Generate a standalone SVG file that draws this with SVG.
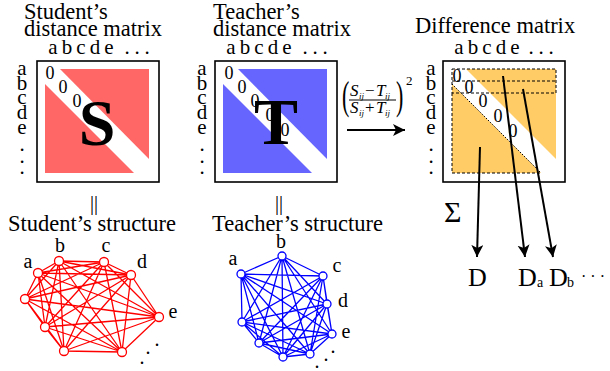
<svg xmlns="http://www.w3.org/2000/svg" width="610" height="371" viewBox="0 0 610 371">
<style>
text{font-family:"Liberation Serif","Times New Roman",serif;fill:#000}
.t{font-size:22.5px}
.lb{font-size:21px;text-anchor:middle}
.z{font-size:18px;text-anchor:middle}
.big{font-size:66px;font-weight:bold;text-anchor:middle}
.box{fill:#fff;stroke:#000;stroke-width:1.6}
.ln{stroke:#000;stroke-width:2;fill:none}
.ds{stroke:#000;stroke-width:1;stroke-dasharray:3 2;fill:none}
.dt{stroke:#000;stroke-width:1;stroke-dasharray:1.5 1.5;fill:none}
.rn{fill:#fff;stroke:#f00;stroke-width:1.3}
.bn{fill:#fff;stroke:#00f;stroke-width:1.3}
.fx{font-size:17px;font-style:italic}
.sb{font-size:9px;font-style:italic}
.op{font-size:17px}
.gl{font-size:20px;text-anchor:middle}
</style>
<defs>
<marker id="ah" markerWidth="14" markerHeight="14" refX="12" refY="6" orient="auto" markerUnits="userSpaceOnUse">
<path d="M0,0 L12,6 L0,12 L3,6 Z" fill="#000"/>
</marker>
</defs>

<g id="student-matrix">
<text class="t" x="24" y="19">Student’s</text>
<text class="t" x="24" y="36">distance matrix</text>
<g class="lb"><text x="53" y="54">a</text><text x="67" y="54">b</text><text x="81" y="54">c</text><text x="95" y="54">d</text><text x="109" y="54">e</text><text x="127" y="54">.</text><text x="137" y="54">.</text><text x="147" y="54">.</text></g>
<g class="lb"><text x="22" y="75">a</text><text x="22" y="90">b</text><text x="22" y="104">c</text><text x="22" y="119">d</text><text x="22" y="134">e</text><text x="22" y="151">.</text><text x="22" y="163">.</text><text x="22" y="174">.</text></g>
<rect class="box" x="37" y="61" width="122" height="121"/>
<polygon points="60,69 149,69 149,159" fill="#ff6666"/>
<polygon points="45,84 45,173 134,173" fill="#ff6666"/>
<text class="z" x="50" y="79">0</text><text class="z" x="63" y="93">0</text><text class="z" x="77" y="107">0</text>
<text class="big" x="97" y="145">S</text>
</g>

<g id="teacher-matrix">
<text class="t" x="213" y="19">Teacher’s</text>
<text class="t" x="213" y="36">distance matrix</text>
<g class="lb"><text x="231" y="54">a</text><text x="245" y="54">b</text><text x="259" y="54">c</text><text x="273" y="54">d</text><text x="287" y="54">e</text><text x="305" y="54">.</text><text x="315" y="54">.</text><text x="325" y="54">.</text></g>
<g class="lb"><text x="202" y="75">a</text><text x="202" y="90">b</text><text x="202" y="104">c</text><text x="202" y="119">d</text><text x="202" y="134">e</text><text x="202" y="151">.</text><text x="202" y="163">.</text><text x="202" y="174">.</text></g>
<rect class="box" x="215" y="61" width="122" height="121"/>
<polygon points="238,69 327,69 327,159" fill="#6666ff"/>
<polygon points="223,84 223,173 312,173" fill="#6666ff"/>
<text class="z" x="229" y="79">0</text><text class="z" x="242" y="93">0</text><text class="z" x="255" y="107">0</text><text class="z" x="270" y="121">0</text><text class="z" x="285" y="136">0</text>
<text class="big" x="276" y="144">T</text>
</g>

<g id="formula">
<text x="342" y="109" font-size="40" transform="translate(342 0) scale(0.55 1) translate(-342 0)">(</text>
<text class="fx" x="350" y="96">S</text><text class="sb" x="359" y="99">ij</text>
<text class="op" x="365" y="96">−</text>
<text class="fx" x="376" y="96">T</text><text class="sb" x="385" y="99">ij</text>
<line x1="349" y1="100" x2="396" y2="100" stroke="#000" stroke-width="1"/>
<text class="fx" x="350" y="113">S</text><text class="sb" x="359" y="116">ij</text>
<text class="op" x="365" y="113">+</text>
<text class="fx" x="376" y="113">T</text><text class="sb" x="385" y="116">ij</text>
<text x="396" y="109" font-size="40" transform="translate(396 0) scale(0.55 1) translate(-396 0)">)</text>
<text x="406" y="85" font-size="13">2</text>
</g>

<g id="difference-matrix">
<text class="t" x="415" y="33">Difference matrix</text>
<g class="lb"><text x="459" y="54">a</text><text x="473" y="54">b</text><text x="487" y="54">c</text><text x="501" y="54">d</text><text x="515" y="54">e</text><text x="531" y="54">.</text><text x="541" y="54">.</text><text x="551" y="54">.</text></g>
<g class="lb"><text x="431" y="75">a</text><text x="431" y="90">b</text><text x="431" y="104">c</text><text x="431" y="119">d</text><text x="431" y="134">e</text><text x="431" y="151">.</text><text x="431" y="163">.</text><text x="431" y="174">.</text></g>
<rect class="box" x="443" y="61" width="122" height="121"/>
<polygon points="466,69 556,69 556,159" fill="#ffcc66"/>
<polygon points="452,84 452,173 541,173" fill="#ffcc66"/>
<path class="ds" d="M452 69H556V93H452ZM452 81H556M452 93V173H541"/>
<path class="dt" d="M452 84L541 173"/>
<text class="z" x="457" y="82">0</text><text class="z" x="469" y="93">0</text><text class="z" x="483" y="107">0</text><text class="z" x="498" y="122">0</text><text class="z" x="513" y="137">0</text>
<text x="444" y="222" font-size="30">Σ</text>
</g>

<g id="student-structure">
<text x="94" y="210" font-size="20" text-anchor="middle">||</text>
<text class="t" x="8" y="231">Student’s structure</text>
<path d="M38 273L59 261M38 273L104 262M38 273L131 275M38 273L159 317M38 273L122 352M38 273L64 351M38 273L45 327M38 273L25 299M59 261L104 262M59 261L131 275M59 261L159 317M59 261L122 352M59 261L64 351M59 261L45 327M59 261L25 299M104 262L131 275M104 262L159 317M104 262L122 352M104 262L64 351M104 262L45 327M104 262L25 299M131 275L159 317M131 275L122 352M131 275L64 351M131 275L45 327M131 275L25 299M159 317L122 352M159 317L64 351M159 317L45 327M159 317L25 299M122 352L64 351M122 352L45 327M122 352L25 299M64 351L45 327M64 351L25 299M45 327L25 299" stroke="#f00" stroke-width="1.3" fill="none"/>
<g class="rn"><circle cx="38" cy="273" r="4.5"/><circle cx="59" cy="261" r="4.5"/><circle cx="104" cy="262" r="4.5"/><circle cx="131" cy="275" r="4.5"/><circle cx="159" cy="317" r="4.5"/><circle cx="122" cy="352" r="4.5"/><circle cx="64" cy="351" r="4.5"/><circle cx="45" cy="327" r="4.5"/><circle cx="25" cy="299" r="4.5"/></g>
<g class="gl"><text x="28" y="268">a</text><text x="60" y="252">b</text><text x="106" y="252">c</text><text x="142" y="268">d</text><text x="173" y="318">e</text><text x="157" y="346">.</text><text x="148" y="354">.</text><text x="142" y="364">.</text></g>
</g>

<g id="teacher-structure">
<text x="279" y="210" font-size="20" text-anchor="middle">||</text>
<text class="t" x="212" y="231">Teacher’s structure</text>
<path d="M241 274L282 256M241 274L323 276M241 274L327 304M241 274L332 334M241 274L310 354M241 274L283 357M241 274L259 343M241 274L242 322M282 256L323 276M282 256L327 304M282 256L332 334M282 256L310 354M282 256L283 357M282 256L259 343M282 256L242 322M323 276L327 304M323 276L332 334M323 276L310 354M323 276L283 357M323 276L259 343M323 276L242 322M327 304L332 334M327 304L310 354M327 304L283 357M327 304L259 343M327 304L242 322M332 334L310 354M332 334L283 357M332 334L259 343M332 334L242 322M310 354L283 357M310 354L259 343M310 354L242 322M283 357L259 343M283 357L242 322M259 343L242 322" stroke="#00f" stroke-width="1.3" fill="none"/>
<g class="bn"><circle cx="241" cy="274" r="4"/><circle cx="282" cy="256" r="4"/><circle cx="323" cy="276" r="4"/><circle cx="327" cy="304" r="4"/><circle cx="332" cy="334" r="4"/><circle cx="310" cy="354" r="4"/><circle cx="283" cy="357" r="4"/><circle cx="259" cy="343" r="4"/><circle cx="242" cy="322" r="4"/></g>
<g class="gl"><text x="233" y="265">a</text><text x="281" y="248">b</text><text x="337" y="272">c</text><text x="343" y="307">d</text><text x="346" y="338">e</text><text x="333" y="353">.</text><text x="326" y="361">.</text><text x="317" y="368">.</text></g>
</g>

<g id="result-D"><text x="468" y="286" font-size="26">D</text></g>
<g id="result-Da"><text x="518" y="286" font-size="26">D</text><text x="537" y="287" font-size="14">a</text></g>
<g id="result-Db"><text x="549" y="286" font-size="26">D</text><text x="567" y="287" font-size="14">b</text></g>
<text x="581" y="282" font-size="16">· · ·</text>

<g id="connectors">
<line class="ln" x1="347" y1="130" x2="405" y2="130" marker-end="url(#ah)"/>
<line class="ln" x1="480" y1="147" x2="477" y2="257" marker-end="url(#ah)"/>
<line class="ln" x1="503" y1="76" x2="525" y2="257" marker-end="url(#ah)"/>
<line class="ln" x1="523" y1="89" x2="553" y2="257" marker-end="url(#ah)"/>
</g>
</svg>
